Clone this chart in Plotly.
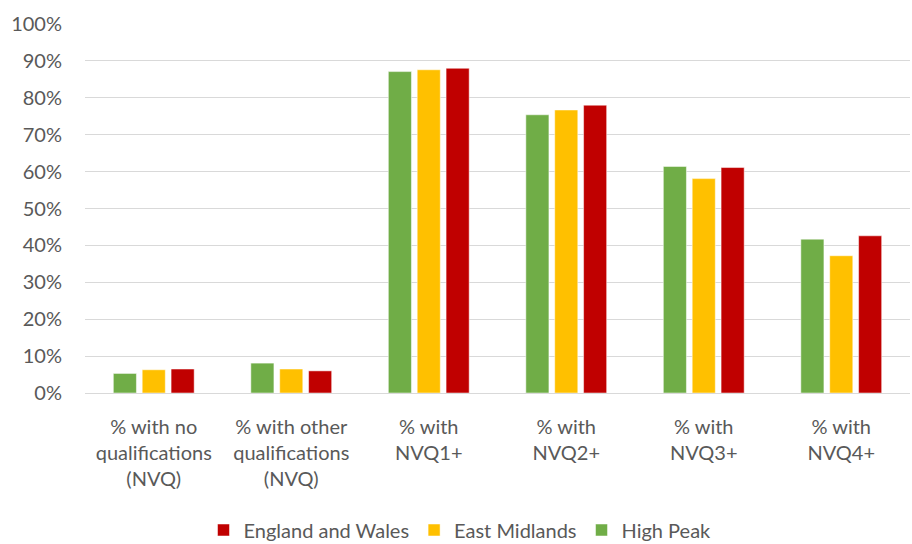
import plotly.graph_objects as go

categories = ["% with no<br>qualifications<br>(NVQ)", "% with other<br>qualifications<br>(NVQ)",
              "% with<br>NVQ1+", "% with<br>NVQ2+", "% with<br>NVQ3+", "% with<br>NVQ4+"]
high_peak = [5.3, 8.1, 87.1, 75.4, 61.4, 41.7]
east_midlands = [6.3, 6.5, 87.6, 76.7, 58.1, 37.2]
england_wales = [6.5, 6.0, 88.0, 78.0, 61.1, 42.6]
y_ticks = list(range(0, 101, 10))
y_tick_labels = [f"{v}%" for v in y_ticks]

font_family = "Lato, sans-serif"

fig = go.Figure()
fig.add_bar(x=categories, y=high_peak, name="High Peak", marker_color="#70AD47",
            marker_line_color="white", marker_line_width=0.5)
fig.add_bar(x=categories, y=east_midlands, name="East Midlands", marker_color="#FFC000",
            marker_line_color="white", marker_line_width=0.5)
fig.add_bar(x=categories, y=england_wales, name="England and Wales", marker_color="#C00000",
            marker_line_color="white", marker_line_width=0.5)

fig.update_layout(
    width=912, height=544,
    margin=dict(l=85, r=2, t=24, b=151),
    paper_bgcolor="white", plot_bgcolor="white",
    barmode="group", bargap=0.37, bargroupgap=0.2,
    font=dict(family=font_family, size=20, color="#595959"),
    showlegend=True,
    legend=dict(orientation="h", traceorder="reversed", xref="container", x=460/912,
                xanchor="center", yref="container", y=14/544, yanchor="middle",
                font=dict(size=20, color="#595959"), itemwidth=30),
    yaxis=dict(range=[0, 100], tickmode="array", tickvals=y_ticks, ticktext=y_tick_labels,
               showgrid=True, gridcolor="#D9D9D9", gridwidth=1, zeroline=False,
               showline=False, ticks="", ticklabelstandoff=22),
    xaxis=dict(showline=True, linecolor="#D9D9D9", linewidth=1, ticks="",
               ticklabelstandoff=16),
)

fig.write_html("out.html")
